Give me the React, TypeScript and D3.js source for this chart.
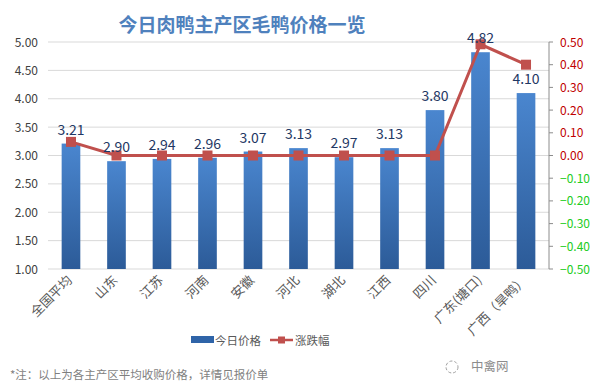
import { useEffect, useRef } from "react";
import * as d3 from "d3";

const regions = ["全国平均", "山东", "江苏", "河南", "安徽", "河北", "湖北", "江西", "四川", "广东(塘口)", "广西（旱鸭）"];
const prices = [3.21, 2.9, 2.94, 2.96, 3.07, 3.13, 2.97, 3.13, 3.8, 4.82, 4.1];
const changes = [0.06, 0, 0, 0, 0, 0, 0, 0, 0, 0.49, 0.4];
const leftTicks = [1, 1.5, 2, 2.5, 3, 3.5, 4, 4.5, 5];
const rightTicks = [-0.5, -0.4, -0.3, -0.2, -0.1, 0, 0.1, 0.2, 0.3, 0.4, 0.5];

export default function App() {
  const ref = useRef<SVGSVGElement>(null);

  useEffect(() => {
    if (!ref.current) return;
    const svg = d3.select(ref.current);
    svg.selectAll("*").remove();

    const width = 592;
    const height = 391;
    const margin = { top: 42, right: 43, bottom: 122, left: 48 };
    const font = "'Noto Sans CJK SC', 'Liberation Sans', sans-serif";

    svg.append("rect").attr("width", width).attr("height", height).attr("fill", "#ffffff");

    const defs = svg.append("defs");
    const grad = defs
      .append("linearGradient")
      .attr("id", "barGrad")
      .attr("x1", 0)
      .attr("y1", 0)
      .attr("x2", 0)
      .attr("y2", 1);
    grad.append("stop").attr("offset", "0%").attr("stop-color", "#4a86cf");
    grad.append("stop").attr("offset", "100%").attr("stop-color", "#2c5b98");

    const x = d3
      .scaleBand()
      .domain(regions)
      .range([margin.left, width - margin.right])
      .paddingInner(0.59)
      .paddingOuter(0.3);

    const y = d3
      .scaleLinear()
      .domain([1, 5])
      .range([height - margin.bottom, margin.top]);

    const y2 = d3
      .scaleLinear()
      .domain([-0.5, 0.5])
      .range([height - margin.bottom, margin.top]);

    // title
    svg
      .append("text")
      .attr("x", 242)
      .attr("y", 32)
      .attr("text-anchor", "middle")
      .attr("font-family", font)
      .attr("font-size", 19)
      .attr("font-weight", "bold")
      .attr("fill", "#4f81bd")
      .text("今日肉鸭主产区毛鸭价格一览");

    // gridlines
    svg
      .append("g")
      .selectAll("line")
      .data(leftTicks)
      .enter()
      .append("line")
      .attr("x1", margin.left)
      .attr("x2", width - margin.right)
      .attr("y1", (d) => y(d))
      .attr("y2", (d) => y(d))
      .attr("stroke", "#d9d9d9")
      .attr("stroke-width", 1);

    // left axis labels
    svg
      .append("g")
      .selectAll("text")
      .data(leftTicks)
      .enter()
      .append("text")
      .attr("x", 38)
      .attr("y", (d) => y(d) + 4.5)
      .attr("text-anchor", "end")
      .attr("font-family", font)
      .attr("font-size", 12)
      .attr("fill", "#404040")
      .text((d) => d3.format(".2f")(d));

    // right axis
    const rx = width - margin.right;
    const ra = svg.append("g");
    ra.append("line")
      .attr("x1", rx)
      .attr("x2", rx)
      .attr("y1", y2(0.5))
      .attr("y2", y2(-0.5))
      .attr("stroke", "#8c8c8c");
    ra.selectAll("line.tick")
      .data(rightTicks)
      .enter()
      .append("line")
      .attr("class", "tick")
      .attr("x1", rx)
      .attr("x2", rx + 4)
      .attr("y1", (d) => y2(d))
      .attr("y2", (d) => y2(d))
      .attr("stroke", "#8c8c8c");
    ra.selectAll("text")
      .data(rightTicks)
      .enter()
      .append("text")
      .attr("x", rx + 11)
      .attr("y", (d) => y2(d) + 4.5)
      .attr("font-family", font)
      .attr("font-size", 12)
      .attr("fill", (d) => (d < 0 ? "#22cc22" : "#c00000"))
      .text((d) => d3.format(".2f")(d));

    // bars
    svg
      .append("g")
      .selectAll("rect")
      .data(prices)
      .enter()
      .append("rect")
      .attr("x", (d, i) => x(regions[i])!)
      .attr("y", (d) => y(d))
      .attr("width", x.bandwidth())
      .attr("height", (d) => y(1) - y(d))
      .attr("fill", "url(#barGrad)");

    // line
    const cx = (i: number) => x(regions[i])! + x.bandwidth() / 2;
    const line = d3
      .line<number>()
      .x((d, i) => cx(i))
      .y((d) => y2(d));
    svg
      .append("path")
      .datum(changes)
      .attr("d", line)
      .attr("fill", "none")
      .attr("stroke", "#c0504d")
      .attr("stroke-width", 3);
    svg
      .append("g")
      .selectAll("rect")
      .data(changes)
      .enter()
      .append("rect")
      .attr("x", (d, i) => cx(i) - 5)
      .attr("y", (d) => y2(d) - 5)
      .attr("width", 10)
      .attr("height", 10)
      .attr("fill", "#c0504d");

    // data labels
    svg
      .append("g")
      .selectAll("text")
      .data(prices)
      .enter()
      .append("text")
      .attr("x", (d, i) => cx(i))
      .attr("y", (d) => y(d) - 9)
      .attr("text-anchor", "middle")
      .attr("font-family", font)
      .attr("font-size", 14)
      .attr("fill", "#1f3864")
      .text((d) => d3.format(".2f")(d));

    // x labels
    svg
      .append("g")
      .selectAll("text")
      .data(regions)
      .enter()
      .append("text")
      .attr("transform", (d, i) => `translate(${cx(i) + 2},${y(1) + 12}) rotate(-45)`)
      .attr("text-anchor", "end")
      .attr("font-family", font)
      .attr("font-size", 13)
      .attr("fill", "#595959")
      .text((d) => d);

    // legend
    const lg = svg.append("g").attr("transform", "translate(0,340)");
    lg.append("rect").attr("x", 191).attr("y", -4).attr("width", 23).attr("height", 7).attr("fill", "#2f64a8");
    lg.append("text")
      .attr("x", 215)
      .attr("y", 4.5)
      .attr("font-family", font)
      .attr("font-size", 11.5)
      .attr("fill", "#595959")
      .text("今日价格");
    lg.append("line").attr("x1", 270).attr("x2", 293).attr("y1", 0).attr("y2", 0).attr("stroke", "#c0504d").attr("stroke-width", 2.5);
    lg.append("rect").attr("x", 278).attr("y", -3.5).attr("width", 7).attr("height", 7).attr("fill", "#c0504d");
    lg.append("text")
      .attr("x", 295)
      .attr("y", 4.5)
      .attr("font-family", font)
      .attr("font-size", 11.5)
      .attr("fill", "#595959")
      .text("涨跌幅");

    // footnote
    svg
      .append("text")
      .attr("x", 10)
      .attr("y", 379)
      .attr("font-family", font)
      .attr("font-size", 11.5)
      .attr("fill", "#7f7f7f")
      .text("*注：以上为各主产区平均收购价格，详情见报价单");

    // watermark
    svg
      .append("text")
      .attr("x", 471)
      .attr("y", 371)
      .attr("font-family", font)
      .attr("font-size", 12.5)
      .attr("fill", "#8c8c8c")
      .text("中禽网");
    svg
      .append("circle")
      .attr("cx", 452)
      .attr("cy", 367)
      .attr("r", 6)
      .attr("fill", "none")
      .attr("stroke", "#a0a0a0")
      .attr("stroke-dasharray", "3,2");
  }, []);

  return (
    <svg
      ref={ref}
      width={592}
      height={391}
      style={{ position: "absolute", left: 0, top: 0, display: "block" }}
    />
  );
}
